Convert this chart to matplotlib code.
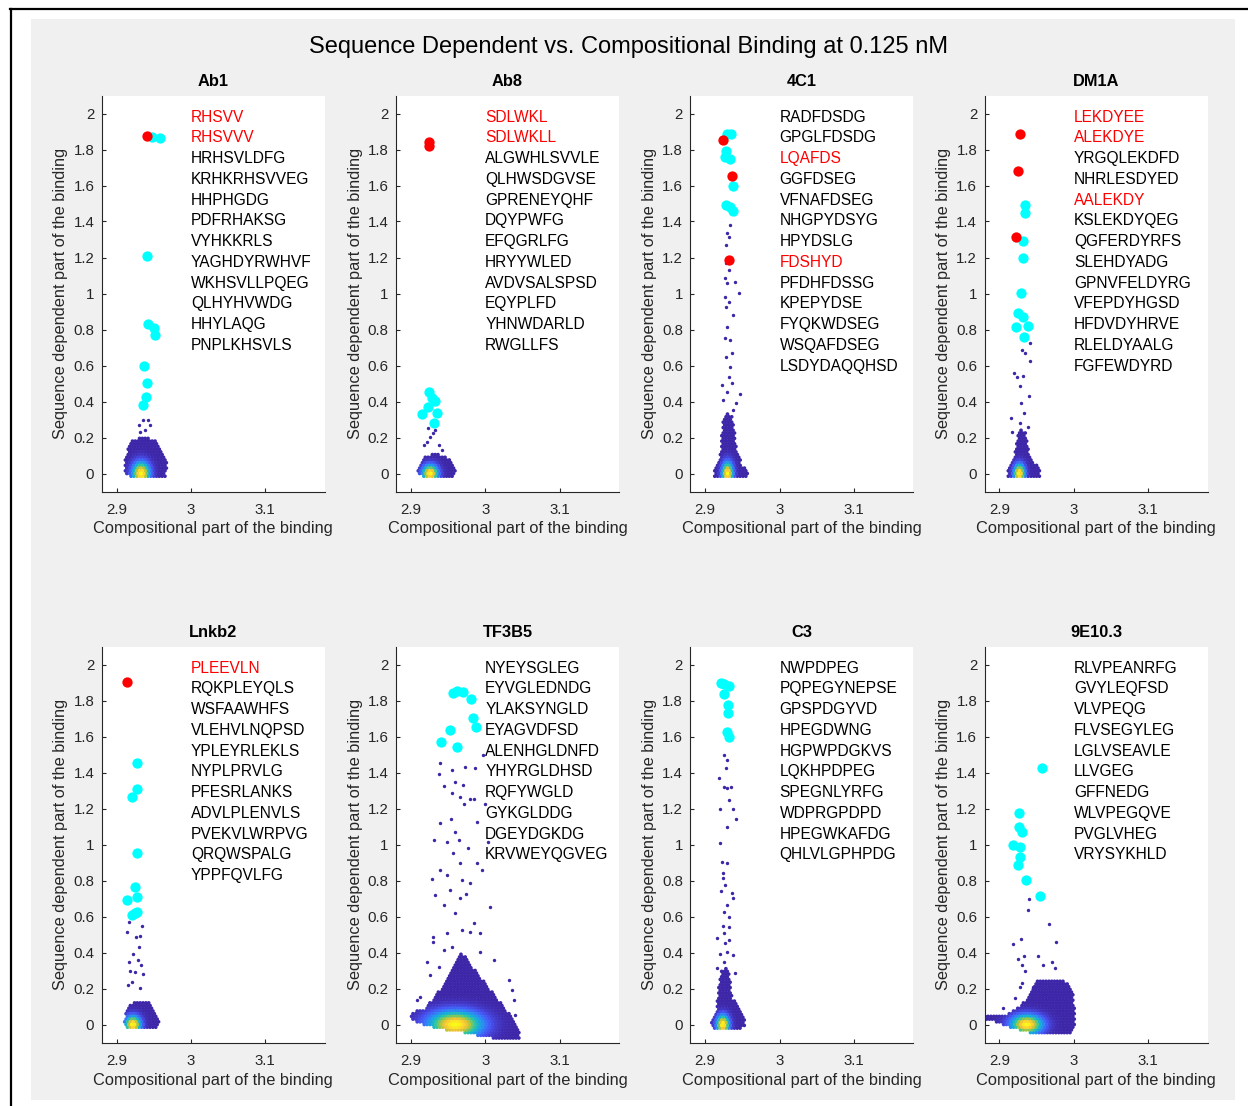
import numpy as np
import matplotlib
matplotlib.use('Agg')
import matplotlib.pyplot as plt
from matplotlib.colors import LinearSegmentedColormap
from matplotlib.path import Path
from matplotlib.patches import Rectangle
from matplotlib.lines import Line2D

plt.rcParams['font.family'] = ['Liberation Sans', 'DejaVu Sans']

fig_title = 'Sequence Dependent vs. Compositional Binding at 0.125 nM'
x_label = 'Compositional part of the binding'
y_label = 'Sequence dependent part of the binding'

# ---------------- Ab1 ----------------
ab1_seqs = ['RHSVV', 'RHSVVV', 'HRHSVLDFG', 'KRHKRHSVVEG', 'HHPHGDG', 'PDFRHAKSG',
            'VYHKKRLS', 'YAGHDYRWHVF', 'WKHSVLLPQEG', 'QLHYHVWDG', 'HHYLAQG', 'PNPLKHSVLS']
ab1_red_seqs = [0, 1]
ab1_red_x = [2.9408]
ab1_red_y = [1.877]
ab1_cyan_x = [2.9471, 2.9583, 2.9412, 2.9425, 2.9506, 2.9515, 2.9371, 2.9412, 2.9390, 2.9358]
ab1_cyan_y = [1.871, 1.862, 1.208, 0.831, 0.810, 0.769, 0.599, 0.501, 0.427, 0.381]
ab1_tail_x = [2.9358, 2.9425, 2.9304, 2.9448, 2.9383, 2.9316]
ab1_tail_y = [0.297, 0.297, 0.270, 0.270, 0.240, 0.232]
ab1_env_x = [2.910, 2.912, 2.916, 2.920, 2.935, 2.950, 2.958, 2.965, 2.969, 2.966, 2.950, 2.925, 2.915]
ab1_env_y = [0.02, 0.08, 0.15, 0.19, 0.20, 0.19, 0.15, 0.10, 0.05, -0.02, -0.03, -0.03, -0.01]
ab1_core = [2.933, 0.0, 0.011, 0.06]

# ---------------- Ab8 ----------------
ab8_seqs = ['SDLWKL', 'SDLWKLL', 'ALGWHLSVVLE', 'QLHWSDGVSE', 'GPRENEYQHF', 'DQYPWFG',
            'EFQGRLFG', 'HRYYWLED', 'AVDVSALSPSD', 'EQYPLFD', 'YHNWDARLD', 'RWGLLFS']
ab8_red_seqs = [0, 1]
ab8_red_x = [2.9246, 2.9246]
ab8_red_y = [1.843, 1.819]
ab8_cyan_x = [2.9250, 2.9327, 2.9237, 2.9156, 2.9345, 2.9309, 2.9285]
ab8_cyan_y = [0.454, 0.403, 0.371, 0.331, 0.334, 0.282, 0.420]
ab8_tail_x = [2.9215, 2.9260, 2.9300, 2.9327, 2.9372, 2.9237, 2.9417, 2.9170]
ab8_tail_y = [0.177, 0.205, 0.223, 0.242, 0.158, 0.251, 0.131, 0.158]
ab8_env_x = [2.908, 2.912, 2.918, 2.930, 2.945, 2.955, 2.960, 2.955, 2.935, 2.915]
ab8_env_y = [0.01, 0.06, 0.09, 0.11, 0.10, 0.07, 0.02, -0.025, -0.03, -0.015]
ab8_core = [2.926, 0.0, 0.010, 0.045]

# ---------------- 4C1 ----------------
c41_seqs = ['RADFDSDG', 'GPGLFDSDG', 'LQAFDS', 'GGFDSEG', 'VFNAFDSEG', 'NHGPYDSYG', 'HPYDSLG',
            'FDSHYD', 'PFDHFDSSG', 'KPEPYDSE', 'FYQKWDSEG', 'WSQAFDSEG', 'LSDYDAQQHSD']
c41_red_seqs = [2, 7]
c41_red_x = [2.9238, 2.9359, 2.9314]
c41_red_y = [1.853, 1.653, 1.186]
c41_cyan_x = [2.9292, 2.9350, 2.9283, 2.9269, 2.9336, 2.9381, 2.9283, 2.9336, 2.9381]
c41_cyan_y = [1.884, 1.888, 1.792, 1.760, 1.747, 1.597, 1.492, 1.479, 1.460]
c41_tail_x = [2.9225, 2.9418, 2.9472, 2.9314, 2.9336, 2.9283, 2.9360, 2.9269, 2.9336, 2.9292,
              2.9381, 2.9283, 2.9327, 2.9460, 2.9269, 2.9300, 2.9404, 2.9269, 2.9314, 2.9283,
              2.9327, 2.9300, 2.9336, 2.9283, 2.9300, 2.9360, 2.9246, 2.9380]
c41_tail_y = [0.492, 0.390, 0.442, 0.538, 0.593, 0.649, 0.668, 0.751, 0.742, 0.816,
              0.881, 0.927, 0.954, 1.005, 0.982, 1.057, 1.066, 1.084, 1.131, 1.168,
              1.316, 1.334, 1.381, 1.269, 0.454, 0.501, 0.408, 0.353]
c41_env_x = [2.911, 2.913, 2.918, 2.921, 2.922, 2.924, 2.929, 2.936, 2.940, 2.943, 2.950, 2.958, 2.956, 2.935]
c41_env_y = [-0.02, 0.03, 0.07, 0.12, 0.20, 0.30, 0.35, 0.32, 0.22, 0.12, 0.05, 0.0, -0.02, -0.03]
c41_core = [2.930, 0.0, 0.007, 0.06]

# ---------------- DM1A ----------------
dm1a_seqs = ['LEKDYEE', 'ALEKDYE', 'YRGQLEKDFD', 'NHRLESDYED', 'AALEKDY', 'KSLEKDYQEG', 'QGFERDYRFS',
             'SLEHDYADG', 'GPNVFELDYRG', 'VFEPDYHGSD', 'HFDVDYHRVE', 'RLELDYAALG', 'FGFEWDYRD']
dm1a_red_seqs = [0, 1, 4]
dm1a_red_x = [2.9276, 2.9253, 2.9222]
dm1a_red_y = [1.884, 1.681, 1.312]
dm1a_cyan_x = [2.9343, 2.9343, 2.9320, 2.9312, 2.9289, 2.9253, 2.9312, 2.9222, 2.9388, 2.9330]
dm1a_cyan_y = [1.492, 1.449, 1.292, 1.196, 1.001, 0.890, 0.871, 0.816, 0.819, 0.760]
dm1a_tail_x = [2.9411, 2.9299, 2.9343, 2.9411, 2.9199, 2.9231, 2.9320, 2.9276, 2.9400, 2.9289,
               2.9330, 2.9151, 2.9276, 2.9164, 2.9388]
dm1a_tail_y = [0.723, 0.686, 0.668, 0.627, 0.560, 0.538, 0.542, 0.486, 0.431, 0.390,
               0.334, 0.307, 0.279, 0.232, 0.257]
dm1a_env_x = [2.910, 2.913, 2.918, 2.922, 2.924, 2.930, 2.936, 2.939, 2.946, 2.954, 2.955, 2.935]
dm1a_env_y = [-0.015, 0.04, 0.08, 0.14, 0.22, 0.25, 0.22, 0.12, 0.07, 0.02, -0.02, -0.03]
dm1a_core = [2.9267, 0.0, 0.007, 0.05]

# ---------------- Lnkb2 ----------------
lnkb2_seqs = ['PLEEVLN', 'RQKPLEYQLS', 'WSFAAWHFS', 'VLEHVLNQPSD', 'YPLEYRLEKLS', 'NYPLPRVLG',
              'PFESRLANKS', 'ADVLPLENVLS', 'PVEKVLWRPVG', 'QRQWSPALG', 'YPPFQVLFG']
lnkb2_red_seqs = [0]
lnkb2_red_x = [2.9143]
lnkb2_red_y = [1.901]
lnkb2_cyan_x = [2.9277, 2.9269, 2.9210, 2.9269, 2.9246, 2.9269, 2.9135, 2.9269, 2.9210, 2.9246]
lnkb2_cyan_y = [1.454, 1.307, 1.266, 0.954, 0.762, 0.710, 0.692, 0.627, 0.608, 0.617]
lnkb2_tail_x = [2.9314, 2.9156, 2.9201, 2.9350, 2.9246, 2.9179, 2.9323, 2.9170, 2.9291, 2.9215,
                2.9304, 2.9260, 2.9314, 2.9135, 2.9336, 2.9170]
lnkb2_tail_y = [0.201, 0.219, 0.238, 0.278, 0.293, 0.300, 0.328, 0.349, 0.358, 0.392,
                0.432, 0.488, 0.492, 0.516, 0.547, 0.571]
lnkb2_env_x = [2.909, 2.912, 2.918, 2.930, 2.945, 2.953, 2.958, 2.955, 2.930, 2.912]
lnkb2_env_y = [0.0, 0.06, 0.11, 0.13, 0.12, 0.07, 0.01, -0.02, -0.03, -0.02]
lnkb2_core = [2.922, 0.0, 0.010, 0.045]

# ---------------- TF3B5 ----------------
tf3b5_seqs = ['NYEYSGLEG', 'EYVGLEDNDG', 'YLAKSYNGLD', 'EYAGVDFSD', 'ALENHGLDNFD',
              'YHYRGLDHSD', 'RQFYWGLD', 'GYKGLDDG', 'DGEYDGKDG', 'KRVWEYQGVEG']
tf3b5_red_seqs = []
tf3b5_red_x = []
tf3b5_red_y = []
tf3b5_cyan_x = [2.9565, 2.9627, 2.9700, 2.9808, 2.9834, 2.9879, 2.9529, 2.9404, 2.9627]
tf3b5_cyan_y = [1.843, 1.854, 1.847, 1.807, 1.705, 1.654, 1.636, 1.571, 1.540]
tf3b5_tail_x = [2.9395, 2.9372, 2.9552, 2.9731, 2.9865, 2.9977, 2.9442, 2.9599, 2.9552, 2.9700,
                2.9664, 2.9798, 2.9843, 2.9713, 3.0004, 2.9395, 2.9538, 2.9888, 2.9597, 2.9314,
                2.9642, 3.0040, 2.9484, 2.9565, 2.9775, 2.9664, 2.9395, 2.9888, 2.9955, 2.9283,
                2.9484, 2.9686, 2.9789, 2.9327, 2.9529, 2.9664, 2.9745, 3.0067, 2.9440, 2.9597,
                2.9843, 2.9304, 2.9304, 2.9484, 2.9686, 2.9798, 2.9933, 2.9440, 2.9552, 2.9933,
                2.9215, 2.9372, 2.9260, 3.0112, 3.0314, 3.0359, 2.9081, 2.9126, 3.0381, 3.0404]
tf3b5_tail_y = [1.454, 1.392, 1.414, 1.429, 1.423, 1.497, 1.325, 1.349, 1.284, 1.331,
                1.266, 1.251, 1.251, 1.225, 1.225, 1.118, 1.140, 1.127, 1.071, 1.025,
                1.025, 1.016, 1.016, 0.951, 0.979, 0.896, 0.858, 0.896, 0.858, 0.806,
                0.830, 0.803, 0.784, 0.719, 0.747, 0.701, 0.724, 0.651, 0.664, 0.618,
                0.562, 0.488, 0.460, 0.507, 0.525, 0.516, 0.507, 0.414, 0.432, 0.405,
                0.349, 0.321, 0.277, 0.358, 0.247, 0.191, 0.136, 0.154, 0.136, 0.053]
tf3b5_env_x = [2.899, 2.905, 2.918, 2.930, 2.940, 2.948, 2.955, 2.962, 2.968, 2.974, 2.982, 2.992,
               3.002, 3.015, 3.025, 3.035, 3.045, 3.048, 3.035, 3.000, 2.970, 2.945, 2.920, 2.905]
tf3b5_env_y = [0.045, 0.07, 0.09, 0.14, 0.20, 0.25, 0.31, 0.36, 0.40, 0.38, 0.33, 0.27,
               0.22, 0.15, 0.10, 0.05, -0.02, -0.085, -0.09, -0.07, -0.045, -0.03, -0.005, 0.02]
tf3b5_core = [2.9597, 0.0, 0.034, 0.07]

# ---------------- C3 ----------------
c3_seqs = ['NWPDPEG', 'PQPEGYNEPSE', 'GPSPDGYVD', 'HPEGDWNG', 'HGPWPDGKVS', 'LQKHPDPEG',
           'SPEGNLYRFG', 'WDPRGPDPD', 'HPEGWKAFDG', 'QHLVLGPHPDG']
c3_red_seqs = []
c3_red_x = []
c3_red_y = []
c3_cyan_x = [2.9211, 2.9256, 2.9327, 2.9247, 2.9306, 2.9306, 2.9292, 2.9314]
c3_cyan_y = [1.899, 1.892, 1.881, 1.834, 1.775, 1.729, 1.627, 1.599]
c3_tail_x = [2.9247, 2.9292, 2.9283, 2.9180, 2.9247, 2.9292, 2.9346, 2.9327, 2.9373, 2.9193,
             2.9417, 2.9300, 2.9193, 2.9225, 2.9300, 2.9238, 2.9238, 2.9269, 2.9211, 2.9359,
             2.9381, 2.9292, 2.9247, 2.9314, 2.9238, 2.9327, 2.9157, 2.9247, 2.9327, 2.9269,
             2.9202, 2.9373, 2.9292, 2.9404, 2.9157, 2.9247]
c3_tail_y = [1.497, 1.469, 1.423, 1.368, 1.321, 1.312, 1.321, 1.247, 1.196, 1.199,
             1.140, 1.099, 1.010, 0.905, 0.896, 0.843, 0.812, 0.775, 0.743, 0.729,
             0.701, 0.664, 0.627, 0.599, 0.547, 0.543, 0.479, 0.507, 0.469, 0.451,
             0.392, 0.386, 0.404, 0.284, 0.312, 0.349]
c3_env_x = [2.907, 2.910, 2.915, 2.917, 2.919, 2.922, 2.930, 2.934, 2.936, 2.945, 2.952, 2.954, 2.945, 2.915]
c3_env_y = [0.0, 0.05, 0.08, 0.15, 0.25, 0.30, 0.32, 0.25, 0.15, 0.10, 0.05, -0.01, -0.035, -0.03]
c3_core = [2.9238, 0.0, 0.008, 0.05]

# ---------------- 9E10.3 ----------------
e9_seqs = ['RLVPEANRFG', 'GVYLEQFSD', 'VLVPEQG', 'FLVSEGYLEG', 'LGLVSEAVLE', 'LLVGEG',
           'GFFNEDG', 'WLVPEGQVE', 'PVGLVHEG', 'VRYSYKHLD']
e9_red_seqs = []
e9_red_x = []
e9_red_y = []
e9_cyan_x = [2.9568, 2.9267, 2.9267, 2.9307, 2.9186, 2.9276, 2.9276, 2.9253, 2.9353, 2.9545]
e9_cyan_y = [1.427, 1.177, 1.099, 1.071, 0.997, 0.984, 0.929, 0.886, 0.803, 0.716]
e9_tail_x = [2.9401, 2.9388, 2.9670, 2.9760, 2.9289, 2.9178, 2.9522, 2.9330, 2.9245, 2.9299,
             2.9581, 2.9344, 2.9307, 2.9209, 2.9051, 2.9747, 2.9702, 2.9455, 2.9276]
e9_tail_y = [0.696, 0.636, 0.557, 0.457, 0.477, 0.446, 0.381, 0.381, 0.362, 0.331,
             0.331, 0.299, 0.229, 0.146, 0.090, 0.312, 0.349, 0.210, 0.210]
e9_env_x = [2.879, 2.895, 2.910, 2.920, 2.930, 2.940, 2.950, 2.965, 2.985, 2.995, 3.000, 3.002,
            3.000, 2.990, 2.960, 2.935, 2.910, 2.890, 2.879]
e9_env_y = [0.045, 0.05, 0.06, 0.08, 0.11, 0.16, 0.24, 0.25, 0.25, 0.22, 0.15, 0.05,
            -0.03, -0.06, -0.06, -0.04, -0.01, 0.02, 0.035]
e9_core = [2.9366, 0.0, 0.020, 0.05]

panels = [
    ('Ab1', ab1_seqs, ab1_red_seqs, ab1_red_x, ab1_red_y, ab1_cyan_x, ab1_cyan_y,
     ab1_tail_x, ab1_tail_y, ab1_env_x, ab1_env_y, ab1_core),
    ('Ab8', ab8_seqs, ab8_red_seqs, ab8_red_x, ab8_red_y, ab8_cyan_x, ab8_cyan_y,
     ab8_tail_x, ab8_tail_y, ab8_env_x, ab8_env_y, ab8_core),
    ('4C1', c41_seqs, c41_red_seqs, c41_red_x, c41_red_y, c41_cyan_x, c41_cyan_y,
     c41_tail_x, c41_tail_y, c41_env_x, c41_env_y, c41_core),
    ('DM1A', dm1a_seqs, dm1a_red_seqs, dm1a_red_x, dm1a_red_y, dm1a_cyan_x, dm1a_cyan_y,
     dm1a_tail_x, dm1a_tail_y, dm1a_env_x, dm1a_env_y, dm1a_core),
    ('Lnkb2', lnkb2_seqs, lnkb2_red_seqs, lnkb2_red_x, lnkb2_red_y, lnkb2_cyan_x, lnkb2_cyan_y,
     lnkb2_tail_x, lnkb2_tail_y, lnkb2_env_x, lnkb2_env_y, lnkb2_core),
    ('TF3B5', tf3b5_seqs, tf3b5_red_seqs, tf3b5_red_x, tf3b5_red_y, tf3b5_cyan_x, tf3b5_cyan_y,
     tf3b5_tail_x, tf3b5_tail_y, tf3b5_env_x, tf3b5_env_y, tf3b5_core),
    ('C3', c3_seqs, c3_red_seqs, c3_red_x, c3_red_y, c3_cyan_x, c3_cyan_y,
     c3_tail_x, c3_tail_y, c3_env_x, c3_env_y, c3_core),
    ('9E10.3', e9_seqs, e9_red_seqs, e9_red_x, e9_red_y, e9_cyan_x, e9_cyan_y,
     e9_tail_x, e9_tail_y, e9_env_x, e9_env_y, e9_core),
]

# parula-like colormap (MATLAB default)
parula = LinearSegmentedColormap.from_list('parula', [
    (0.2422, 0.1504, 0.6603), (0.2810, 0.3228, 0.9579), (0.1786, 0.5289, 0.9682),
    (0.0689, 0.6948, 0.8394), (0.2161, 0.7843, 0.5923), (0.6720, 0.7793, 0.2227),
    (0.9970, 0.7659, 0.2199), (0.9769, 0.9839, 0.0805)])

axis_gray = '#262626'


def blob_points(env_x, env_y):
    # fill the dense part of the cloud on a staggered grid of dots
    path = Path(np.column_stack([env_x, env_y]))
    gx = np.arange(min(env_x), max(env_x) + 0.004, 0.0038)
    gy = np.arange(min(env_y), max(env_y) + 0.016, 0.015)
    GX, GY = np.meshgrid(gx, gy)
    GX[1::2] += 0.0019
    pts = np.column_stack([GX.ravel(), GY.ravel()])
    return pts[path.contains_points(pts)]


fig = plt.figure(figsize=(12.48, 11.06), dpi=100)
fig.patches.append(Rectangle((31 / 1248, 6 / 1106), (1235 - 31) / 1248, (1100 - 19) / 1106,
                             transform=fig.transFigure, facecolor='#f0f0f0', edgecolor='none', zorder=-10))
fig.lines.append(Line2D([10 / 1248, 1], [1 - 8.5 / 1106, 1 - 8.5 / 1106], transform=fig.transFigure,
                        color='black', lw=1.6, zorder=-5))
fig.lines.append(Line2D([11 / 1248, 11 / 1248], [0, 1 - 8.5 / 1106], transform=fig.transFigure,
                        color='black', lw=1.6, zorder=-5))

lefts = [101.7, 396.0, 690.3, 984.6]
ax_w = 223.0
ax_h = 396.0
bottoms = [491.5, 1042.5]

for i, (name, seqs, red_seqs, red_x, red_y, cyan_x, cyan_y, tail_x, tail_y,
        env_x, env_y, core) in enumerate(panels):
    row, col = divmod(i, 4)
    ax = fig.add_axes([lefts[col] / 1248, (1106 - bottoms[row]) / 1106, ax_w / 1248, ax_h / 1106])
    ax.set_facecolor('white')

    pts = blob_points(env_x, env_y)
    cx, cy, sx, sy = core
    dens = np.exp(-((pts[:, 0] - cx) / sx) ** 2 - ((pts[:, 1] - cy) / sy) ** 2)
    order = np.argsort(dens)
    ax.scatter(pts[order, 0], pts[order, 1], c=dens[order], cmap=parula, vmin=0, vmax=1,
               s=7, linewidths=0, zorder=2)
    ax.scatter(tail_x, tail_y, color=parula(0.0), s=6, linewidths=0, zorder=2)
    ax.scatter(cyan_x, cyan_y, color=(0, 1, 1), s=55, linewidths=0, zorder=3)
    if red_x:
        ax.scatter(red_x, red_y, color=(1, 0, 0), s=55, linewidths=0, zorder=4)

    for k, s in enumerate(seqs):
        ax.text(3.0, 1.98 - 0.1153 * k, s, fontsize=11.2, va='center', ha='left',
                color='red' if k in red_seqs else 'black', zorder=5)

    ax.set_xlim(2.88, 3.18)
    ax.set_ylim(-0.1, 2.1)
    ax.set_xticks([2.9, 3.0, 3.1])
    ax.set_xticklabels(['2.9', '3', '3.1'])
    ax.set_yticks(np.arange(0, 2.01, 0.2))
    ax.set_yticklabels(['%g' % round(v, 1) for v in np.arange(0, 2.01, 0.2)])
    for sp in ['top', 'right']:
        ax.spines[sp].set_visible(False)
    for sp in ['left', 'bottom']:
        ax.spines[sp].set_color(axis_gray)
        ax.spines[sp].set_linewidth(0.8)
    ax.tick_params(direction='in', length=3, width=0.8, colors=axis_gray, labelsize=10.8)
    ax.tick_params(axis='x', pad=8)
    ax.tick_params(axis='y', pad=5.3)

    ax.set_xlabel(x_label, fontsize=11.8, color=axis_gray, va='center')
    ax.xaxis.set_label_coords(0.5, -37.5 / ax_h)
    ax.set_ylabel(y_label, fontsize=11.8, color=axis_gray, va='center')
    ax.yaxis.set_label_coords((61 - 101.7) / ax_w, 0.5)
    ax.text(0.5, 1 + 14.5 / ax_h, name, transform=ax.transAxes, ha='center', va='center',
            fontsize=11.8, fontweight='bold', color='black')

fig.text(629 / 1248, 1 - 47 / 1106, fig_title, ha='center', va='center', fontsize=17, color='black')

fig.savefig('out.png', dpi=100)
